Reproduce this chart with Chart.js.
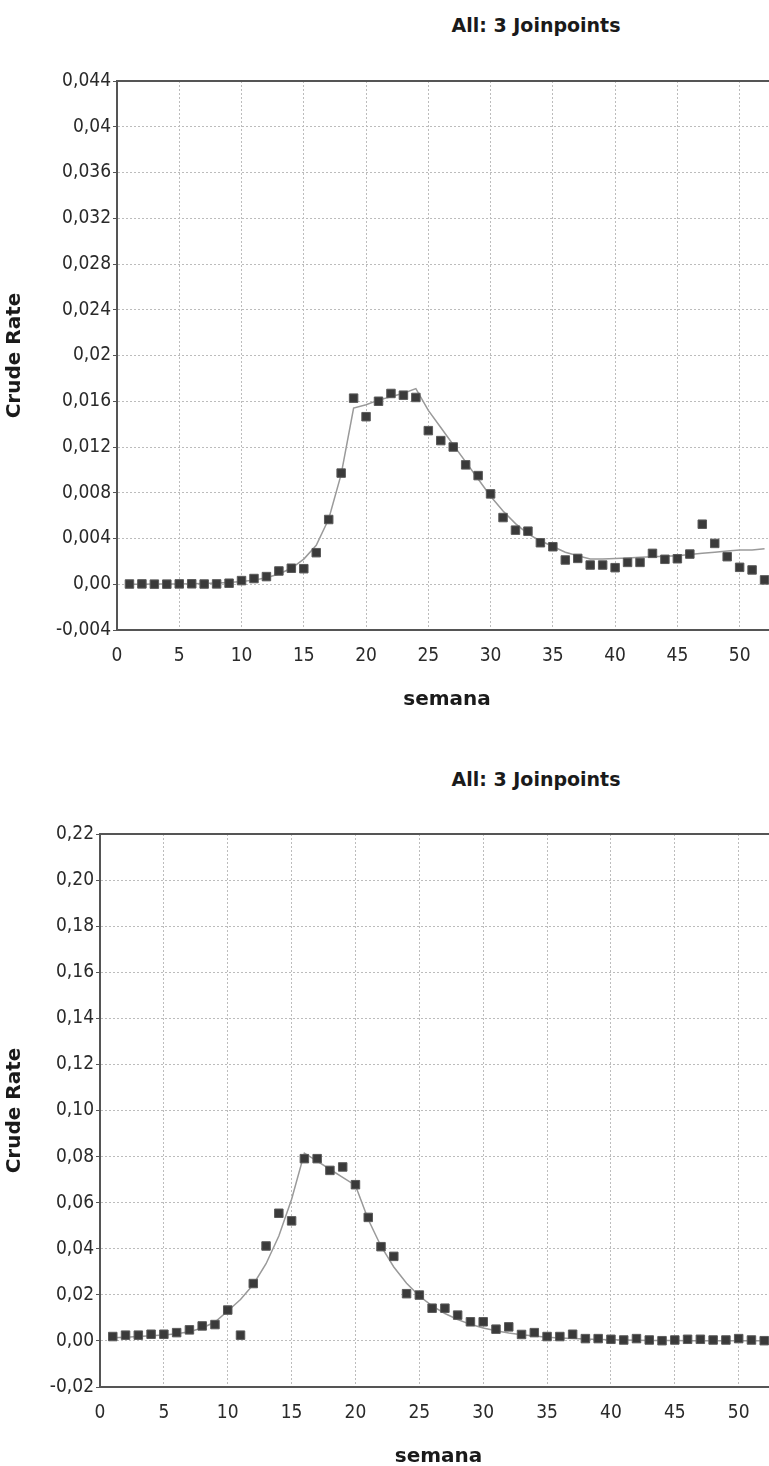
<!DOCTYPE html>
<html>
<head>
<meta charset="utf-8">
<script src="https://cdn.jsdelivr.net/npm/chart.js@4.4.1/dist/chart.umd.min.js"></script>
<style>
    body {
        margin: 0;
        width: 769px;
        height: 1466px;
        overflow: hidden;
        position: relative;
        background: #fff;
    }

    .chart-title {
        position: absolute;
        left: 536px;
        transform: translate(-50%, -50%);
        font: bold 19px "DejaVu Sans", Verdana, sans-serif;
        color: #1a1a1a;
        white-space: nowrap;
    }

    .chart-box {
        position: absolute;
        left: 0;
    }
</style>
</head>
<body>

<div class="chart-title" style="top: 25px;">All: 3 Joinpoints</div>
<div class="chart-box" style="top: 0;">
    <canvas id="rateChartTop" width="790" height="740"></canvas>
</div>

<div class="chart-title" style="top: 779px;">All: 3 Joinpoints</div>
<div class="chart-box" style="top: 760px;">
    <canvas id="rateChartBottom" width="790" height="720"></canvas>
</div>

<script>
// semanas epidemiológicas
const weeks = [
    1, 2, 3, 4, 5, 6, 7, 8, 9, 10,
    11, 12, 13, 14, 15, 16, 17, 18, 19, 20,
    21, 22, 23, 24, 25, 26, 27, 28, 29, 30,
    31, 32, 33, 34, 35, 36, 37, 38, 39, 40,
    41, 42, 43, 44, 45, 46, 47, 48, 49, 50,
    51, 52
];

// taxa bruta observada / modelo joinpoint - gráfico de cima
const topRates = [
    0.00002, 0.00003, 0.00001, 0.00001, 0.00003, 0.00004, 0.00002, 0.00003, 0.00009, 0.00032,
    0.0005, 0.00067, 0.00116, 0.0014, 0.00136, 0.00276, 0.00566, 0.00972, 0.01627, 0.01465,
    0.0160, 0.01668, 0.01653, 0.01633, 0.01343, 0.01256, 0.0120, 0.01044, 0.0095, 0.0079,
    0.00583, 0.00473, 0.00464, 0.00363, 0.00328, 0.00212, 0.00226, 0.00168, 0.00168, 0.00145,
    0.00191, 0.00191, 0.0027, 0.00218, 0.00223, 0.00264, 0.00525, 0.00357, 0.00241, 0.00148,
    0.00125, 0.00038
];

const topTrend = [
    0.00001, 0.00001, 0.00002, 0.00002, 0.00003, 0.00005, 0.00007, 0.0001, 0.00015, 0.00023,
    0.00036, 0.00057, 0.0009, 0.0014, 0.0022, 0.0034, 0.0057, 0.0096, 0.0154, 0.0157,
    0.0161, 0.0164, 0.0167, 0.0171, 0.0152, 0.0137, 0.0122, 0.0107, 0.0092, 0.0077,
    0.0064, 0.0053, 0.0044, 0.0038, 0.0033, 0.0028, 0.0025, 0.0022, 0.0022, 0.00225,
    0.0023, 0.00235, 0.0024, 0.00245, 0.0025, 0.0026, 0.0027, 0.0028, 0.0029, 0.0030,
    0.0030, 0.0031
];

const topTickLabels = [
    '-0,004', '0,00', '0,004', '0,008', '0,012', '0,016', '0,02',
    '0,024', '0,028', '0,032', '0,036', '0,04', '0,044'
];

// gráfico de baixo
const bottomRates = [
    0.0019, 0.0025, 0.0025, 0.0029, 0.0029, 0.0036, 0.0048, 0.0065, 0.0071, 0.0134,
    0.0025, 0.0249, 0.0412, 0.0554, 0.0521, 0.0791, 0.0791, 0.0740, 0.0755, 0.0678,
    0.0536, 0.0409, 0.0367, 0.0205, 0.0199, 0.0142, 0.0142, 0.0112, 0.0083, 0.0083,
    0.0051, 0.0061, 0.0028, 0.0036, 0.0019, 0.0019, 0.0029, 0.0010, 0.0010, 0.0007,
    0.0004, 0.0010, 0.0004, 0.0001, 0.0004, 0.0007, 0.0007, 0.0004, 0.0004, 0.0010,
    0.0004, 0.0001
];

const bottomTrend = [
    0.0014, 0.0016, 0.0019, 0.0022, 0.0026, 0.0031, 0.0040, 0.0056, 0.0082, 0.0130,
    0.0180, 0.0245, 0.0335, 0.0455, 0.0615, 0.0815, 0.0780, 0.0745, 0.0710, 0.0675,
    0.0527, 0.0411, 0.0321, 0.0250, 0.0195, 0.0152, 0.0119, 0.0093, 0.0072, 0.0056,
    0.0044, 0.0034, 0.0027, 0.0021, 0.0016, 0.0013, 0.0010, 0.0008, 0.0006, 0.0005,
    0.0004, 0.0003, 0.0002, 0.0002, 0.0002, 0.0001, 0.0001, 0.0001, 0.0001, 0.0001,
    0.0001, 0.0001
];

const bottomTickLabels = [
    '-0,02', '0,00', '0,02', '0,04', '0,06', '0,08', '0,10',
    '0,12', '0,14', '0,16', '0,18', '0,20', '0,22'
];

const axisColor = '#555';
const gridColor = '#bcbcbc';

const tickFont = {
    family: '"DejaVu Sans Condensed", "Liberation Sans", sans-serif',
    size: 19
};

const titleFont = {
    family: '"DejaVu Sans", Verdana, sans-serif',
    size: 20,
    weight: 'bold'
};

// linha de borda no topo da área do gráfico
const topBorder = {
    id: 'topBorder',
    beforeDatasetsDraw(chart) {
        const {ctx, chartArea} = chart;
        ctx.save();
        ctx.strokeStyle = axisColor;
        ctx.lineWidth = 2;
        ctx.beginPath();
        ctx.moveTo(chartArea.left, chartArea.top);
        ctx.lineTo(chartArea.right, chartArea.top);
        ctx.stroke();
        ctx.restore();
    }
};

function drawRateChart(canvasId, rates, trend, yMin, yMax, yStep, yLabels, yAxisWidth, padTop, padBottom) {

    const ctx = document.getElementById(canvasId);

    new Chart(ctx, {

        type: 'scatter',

        data: {
            datasets: [{
                    label: 'Crude Rate',
                    data: weeks.map((w, i) => ({x: w, y: rates[i]})),
                    pointStyle: 'rect',
                    pointRadius: 6,
                    pointHoverRadius: 6,
                    backgroundColor: '#3a3a3a',
                    borderColor: '#5a5a5a',
                    borderWidth: 1
                }, {
                    label: 'Modeled',
                    data: weeks.map((w, i) => ({x: w, y: trend[i]})),
                    showLine: true,
                    pointRadius: 0,
                    borderColor: '#9a9a9a',
                    borderWidth: 1.5,
                    tension: 0
                }]
        },

        options: {

            responsive: false,
            animation: false,

            layout: {
                padding: {
                    left: 0,
                    top: padTop,
                    right: 13,
                    bottom: padBottom
                }
            },

            plugins: {
                legend: {display: false},
                tooltip: {enabled: false}
            },

            scales: {

                x: {
                    type: 'linear',
                    min: 0,
                    max: 53,
                    afterFit: (scale) => {
                        scale.height = 90;
                    },
                    ticks: {
                        stepSize: 5,
                        includeBounds: false,
                        padding: 15,
                        maxRotation: 0,
                        color: '#2a2a2a',
                        font: tickFont
                    },
                    grid: {
                        color: gridColor,
                        drawTicks: false
                    },
                    border: {
                        color: axisColor,
                        width: 2,
                        dash: [2, 2]
                    },
                    title: {
                        display: true,
                        text: 'semana',
                        color: '#1a1a1a',
                        font: titleFont,
                        padding: {top: 0, bottom: 8}
                    }
                },

                y: {
                    min: yMin,
                    max: yMax,
                    afterFit: (scale) => {
                        scale.width = yAxisWidth;
                    },
                    ticks: {
                        stepSize: yStep,
                        padding: 2,
                        color: '#2a2a2a',
                        font: tickFont,
                        callback: (value) => yLabels[Math.round((value - yMin) / yStep)]
                    },
                    grid: {
                        color: gridColor,
                        tickLength: 4,
                        tickColor: axisColor,
                        tickBorderDash: []
                    },
                    border: {
                        color: axisColor,
                        width: 2,
                        dash: [2, 2]
                    },
                    title: {
                        display: true,
                        text: 'Crude Rate',
                        color: '#1a1a1a',
                        font: titleFont,
                        padding: {top: 3, bottom: 0}
                    }
                }
            }
        },

        plugins: [topBorder]
    });
}

drawRateChart('rateChartTop', topRates, topTrend,
        -0.004, 0.044, 0.004, topTickLabels, 117, 81, 20);

drawRateChart('rateChartBottom', bottomRates, bottomTrend,
        -0.02, 0.22, 0.02, bottomTickLabels, 100, 74, 3);
</script>
</body>
</html>
